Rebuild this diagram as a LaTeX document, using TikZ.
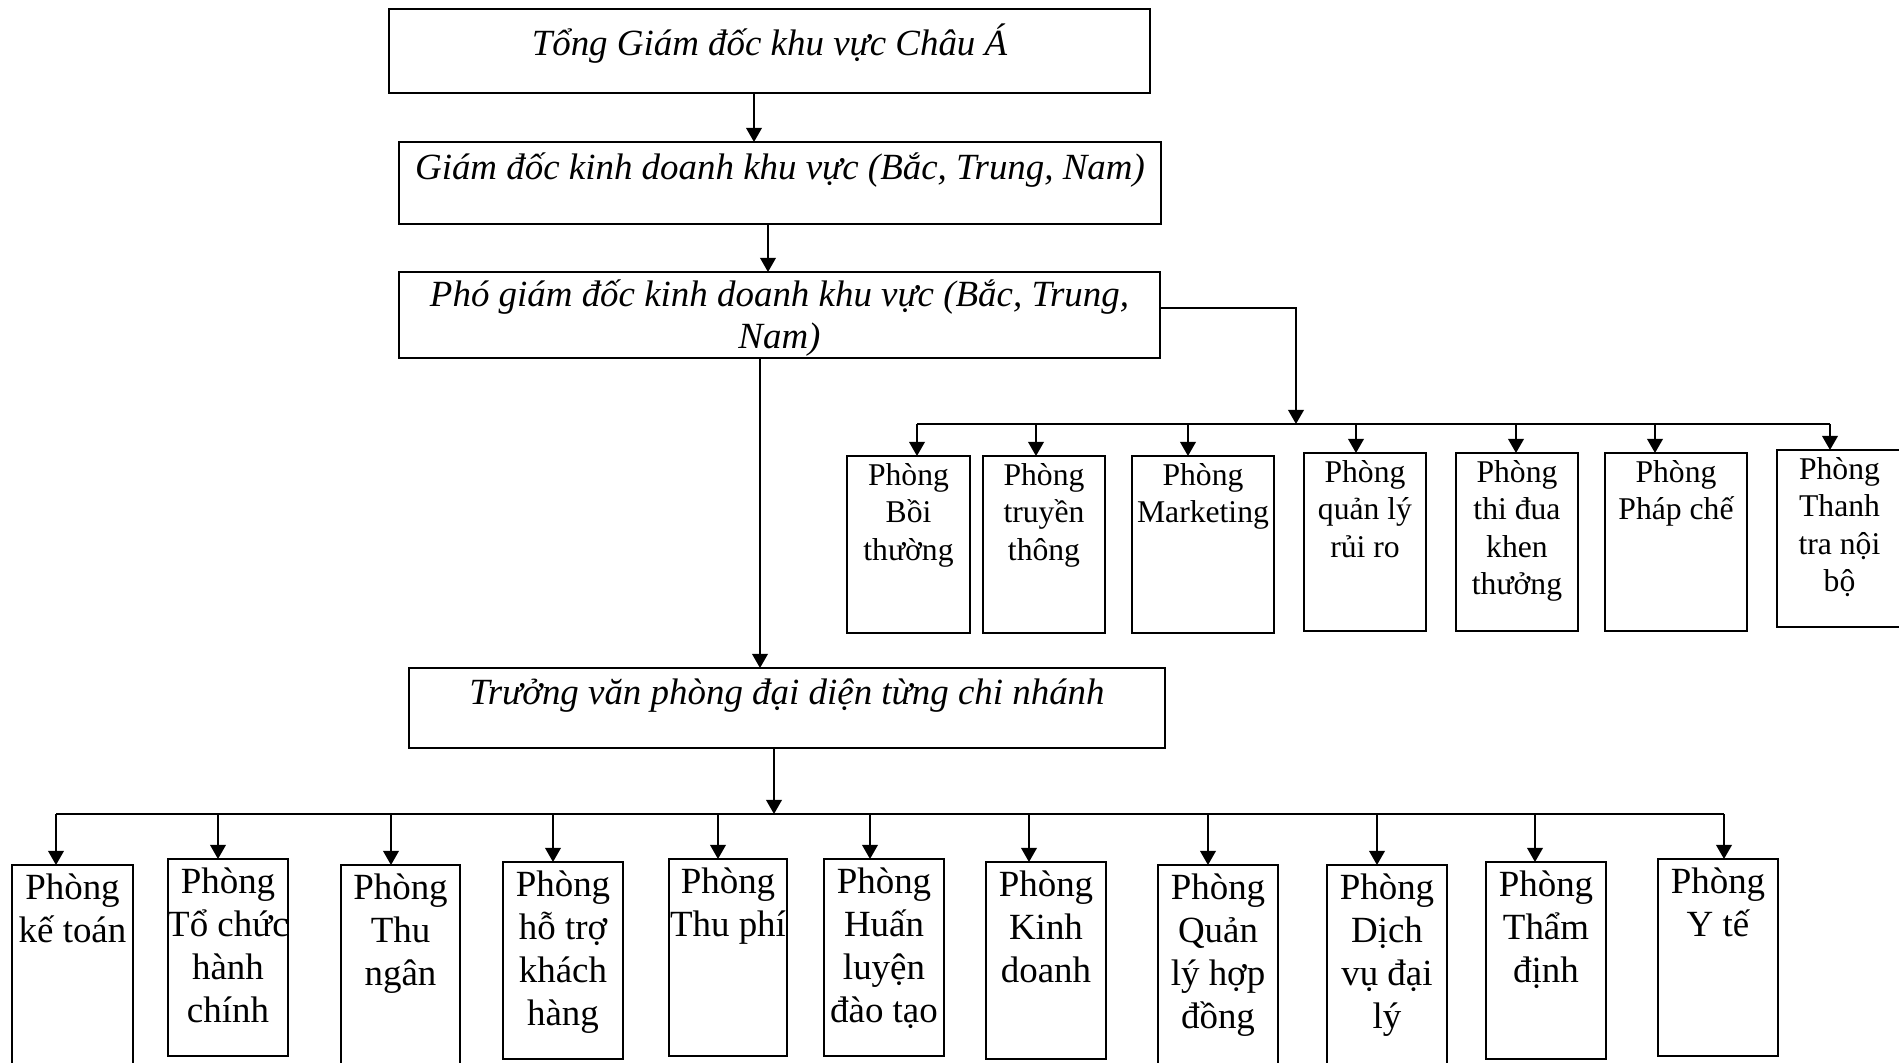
\documentclass[tikz,border=0pt]{standalone}
\usepackage{fontspec}
\setmainfont{Liberation Serif}
\usetikzlibrary{arrows.meta}
\newcommand\mkbox[5]{%
  \pgfmathsetmacro\mbcx{(#2+#4)/2}%
  \pgfmathsetmacro\mbcy{(#3+#5)/2}%
  \pgfmathsetmacro\mbw{(#4-#2)*0.01}%
  \pgfmathsetmacro\mbh{(#5-#3)*0.01}%
  \node[box, minimum width=\mbw cm, minimum height=\mbh cm] (#1) at (\mbcx,\mbcy) {};}
\newcommand\dept[8]{%
  \mkbox{#1}{#2}{#3}{#4}{#5}%
  \pgfmathsetmacro\mbtx{(#2+#4)/2}%
  \coordinate (a#1) at (#6,0);
  \draw[arr] (a#1 |- bus#7) -- (a#1 |- #1.north);
  \node[#7txt] (t#1) at (\mbtx,#3) {\parbox[t]{2.4cm}{\centering #8}};}
\begin{document}
\begin{tikzpicture}[x=0.01cm,y=-0.01cm,
  box/.style={draw, line width=0.55pt, inner sep=0pt, outer sep=0pt},
  ln/.style={line width=0.6pt},
  arr/.style={ln, -{Triangle[length=4pt,width=4.4pt]}},
  ttl/.style={font=\fontsize{10.5}{12.2}\selectfont\itshape, inner sep=0pt, anchor=base},
  ttxt/.style={font=\fontsize{9}{10.66}\selectfont, inner sep=0pt, anchor=base, yshift=-0.29cm},
  btxt/.style={font=\fontsize{10.5}{12.25}\selectfont, inner sep=0pt, anchor=base, yshift=-0.34cm}]
\useasboundingbox (0,0) rectangle (1899,1062);
\clip (0,0) rectangle (1899,1062);
\fill[white] (0,0) rectangle (1899,1062);

% main boxes
\mkbox{b1}{389}{9}{1150}{93}
\mkbox{b2}{399}{142}{1161}{224}
\mkbox{b3}{399}{272}{1160}{358}
\mkbox{b4}{409}{668}{1165}{748}
\node[ttl] (t1) at (769.5,55) {\parbox[t]{8cm}{\centering Tổng Giám đốc khu vực Châu Á}};
\node[ttl] (t2) at (780,179) {\parbox[t]{8cm}{\centering Giám đốc kinh doanh khu vực (Bắc, Trung, Nam)}};
\node[ttl] (t3) at (779.5,306) {\parbox[t]{8cm}{\centering Phó giám đốc kinh doanh khu vực (Bắc, Trung,\\ Nam)}};
\node[ttl] (t4) at (787,704) {\parbox[t]{8cm}{\centering Trưởng văn phòng đại diện từng chi nhánh}};

% bus coordinates
\coordinate (bust) at (0,424);
\coordinate (busb) at (0,814);
\coordinate (x754) at (754,0);
\coordinate (x768) at (768,0);
\coordinate (x760) at (760,0);
\coordinate (x774) at (774,0);
\coordinate (j1) at (1296,424);

\draw[arr] (b1.south -| x754) -- (b2.north -| x754);
\draw[arr] (b2.south -| x768) -- (b3.north -| x768);
\draw[arr] (b3.south -| x760) -- (b4.north -| x760);
\draw[arr] (b4.south -| x774) -- (x774 |- busb);
\draw[arr] ([yshift=0.07cm]b3.east) -| (j1);

% upper departments
\dept{d1}{847}{456}{970}{633}{917}{t}{Phòng\\Bồi\\thường}
\dept{d2}{983}{456}{1105}{633}{1036}{t}{Phòng\\truyền\\thông}
\dept{d3}{1132}{456}{1274}{633}{1188}{t}{Phòng\\Marketing}
\dept{d4}{1304}{453}{1426}{631}{1356}{t}{Phòng\\quản lý\\rủi ro}
\dept{d5}{1456}{453}{1578}{631}{1516}{t}{Phòng\\thi đua\\khen\\thưởng}
\dept{d6}{1605}{453}{1747}{631}{1655}{t}{Phòng\\Pháp chế}
\dept{d7}{1777}{450}{1902}{627}{1830}{t}{Phòng\\Thanh\\tra nội\\bộ}
\draw[ln] (ad1 |- bust) -- (ad7 |- bust);

% lower departments
\dept{e1}{12}{865}{133}{1120}{56}{b}{Phòng\\kế toán}
\dept{e2}{168}{859}{288}{1056}{218}{b}{Phòng\\Tổ chức\\hành\\chính}
\dept{e3}{341}{865}{460}{1120}{391}{b}{Phòng\\Thu\\ngân}
\dept{e4}{503}{862}{623}{1059}{553}{b}{Phòng\\hỗ trợ\\khách\\hàng}
\dept{e5}{669}{859}{787}{1056}{718}{b}{Phòng\\Thu phí}
\dept{e6}{824}{859}{944}{1056}{870}{b}{Phòng\\Huấn\\luyện\\đào tạo}
\dept{e7}{986}{862}{1106}{1059}{1029}{b}{Phòng\\Kinh\\doanh}
\dept{e8}{1158}{865}{1278}{1120}{1208}{b}{Phòng\\Quản\\lý hợp\\đồng}
\dept{e9}{1327}{865}{1447}{1120}{1377}{b}{Phòng\\Dịch\\vụ đại\\lý}
\dept{e10}{1486}{862}{1606}{1059}{1535}{b}{Phòng\\Thẩm\\định}
\dept{e11}{1658}{859}{1778}{1056}{1724}{b}{Phòng\\Y tế}
\draw[ln] (ae1 |- busb) -- (ae11 |- busb);
\end{tikzpicture}
\end{document}
